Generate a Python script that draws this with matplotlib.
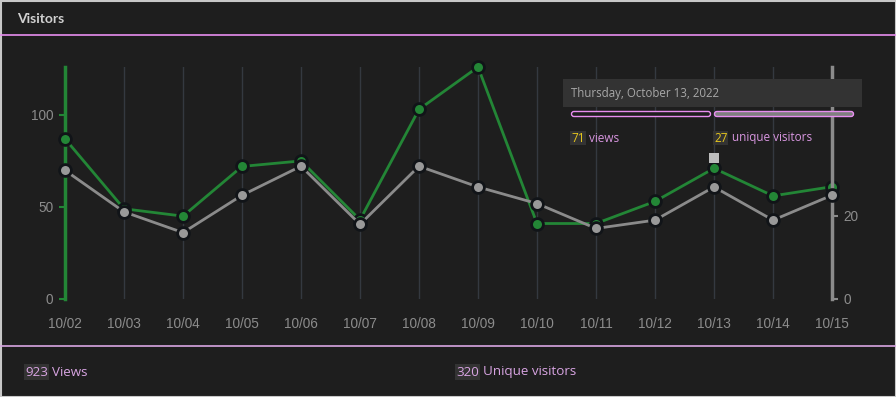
import matplotlib
matplotlib.use("Agg")
import matplotlib.pyplot as plt
from matplotlib.patches import Rectangle, FancyBboxPatch

# data
dates = ['10/02', '10/03', '10/04', '10/05', '10/06', '10/07', '10/08',
         '10/09', '10/10', '10/11', '10/12', '10/13', '10/14', '10/15']
views = [87, 49, 45, 72, 75, 43, 103, 126, 41, 41, 53, 71, 56, 61]
uniques = [31, 21, 16, 25, 32, 18, 32, 27, 23, 17, 19, 27, 19, 25]
left_ticks = [0, 50, 100]
right_ticks = [0, 20]
hover_day = 11
tooltip_title = 'Thursday, October 13, 2022'
total_views = 923
total_uniques = 320

BG = '#1e1e1e'
GREEN = '#238636'
GRAY = '#8b8b8b'
PINK = '#e88ef0'
TEXT_PINK = '#d896e0'
TICKC = '#8c8c8c'

W, H = 896, 397
fig = plt.figure(figsize=(W / 100, H / 100), dpi=100, facecolor=BG)

# main axes (pixel box of the plot area)
x0, x1, ytop, ybot = 65, 832, 67, 299
ax = fig.add_axes([x0 / W, 1 - ybot / H, (x1 - x0) / W, (ybot - ytop) / H])
ax.set_facecolor('none')
ax2 = ax.twinx()

xs = list(range(len(dates)))
ax.set_xlim(0, len(dates) - 1)
ax.set_ylim(0, 126)
ax2.set_ylim(0, 55.9)

for x in xs:
    ax.axvline(x, color='#343940', lw=1, zorder=0)

ax.plot(xs, views, color=GREEN, lw=2, marker='o', markersize=8.5,
        markerfacecolor=GREEN, markeredgecolor='#111418', markeredgewidth=2,
        clip_on=False, zorder=3)
ax2.plot(xs, uniques, color=GRAY, lw=2, marker='o', markersize=8.5,
         markerfacecolor='#999999', markeredgecolor='#111418', markeredgewidth=2,
         clip_on=False, zorder=3)

for a in (ax, ax2):
    for s in a.spines.values():
        s.set_visible(False)

ax.spines['left'].set_visible(True)
ax.spines['left'].set_color(GREEN)
ax.spines['left'].set_linewidth(2.5)
ax2.spines['right'].set_visible(True)
ax2.spines['right'].set_color(GRAY)
ax2.spines['right'].set_linewidth(2.5)

ax.set_xticks(xs)
ax.set_xticklabels(dates)
ax.tick_params(axis='x', length=0, pad=13, labelsize=9.8, labelcolor=TICKC)
ax.set_yticks(left_ticks)
ax.tick_params(axis='y', length=4.5, width=1.5, color=GREEN, pad=4,
               labelsize=9.8, labelcolor=TICKC)
ax2.set_yticks(right_ticks)
ax2.tick_params(axis='y', length=4.5, width=1.5, color=GRAY, pad=4,
                labelsize=9.8, labelcolor=TICKC)
for lab in ax.get_xticklabels() + ax.get_yticklabels() + ax2.get_yticklabels():
    lab.set_family('Liberation Sans')

# overlay in pixel coordinates for header, tooltip, footer
ov = fig.add_axes([0, 0, 1, 1], facecolor='none')
ov.set_xlim(0, W)
ov.set_ylim(H, 0)
ov.axis('off')
ov.set_zorder(10)

ov.add_patch(Rectangle((0.5, 0.5), W - 1, H - 1, fill=False,
                       edgecolor='#c8c8c8', lw=1.5))
ov.text(17, 19, 'Visitors', color='#d0d0d0', fontsize=10, fontweight='bold',
        family='Lato', va='center', ha='left')
ov.plot([0, W], [34.5, 34.5], color=PINK, lw=1.2)
ov.plot([0, W], [345.5, 345.5], color='#d9a6e2', lw=1.2)

# hover marker above the selected day
hx = x0 + (x1 - x0) * hover_day / (len(dates) - 1)
ov.add_patch(Rectangle((hx - 5, 153), 10, 10, facecolor='#bdbdbd', edgecolor='none'))

# tooltip
ov.add_patch(Rectangle((563, 79), 299, 28, facecolor='#333333', edgecolor='none'))
ov.text(571, 93, tooltip_title, color='#a8a8a8', fontsize=8.3,
        family='Open Sans', va='center', ha='left')
ov.add_patch(FancyBboxPatch((571.5, 111.5), 139, 5,
                            boxstyle='round,pad=0,rounding_size=2.5',
                            facecolor=BG, edgecolor=PINK, lw=1))
ov.add_patch(FancyBboxPatch((714.5, 111.5), 139, 5,
                            boxstyle='round,pad=0,rounding_size=2.5',
                            facecolor='#7f7f7f', edgecolor=PINK, lw=1))

fig.canvas.draw()
renderer = fig.canvas.get_renderer()


def number_label(x, y, number, word, numcolor, wordcolor, size):
    num = ov.text(x, y, str(number), color=numcolor, fontsize=size,
                  family='Open Sans', va='center', ha='left',
                  bbox=dict(boxstyle='square,pad=0.08', facecolor='#333333',
                            edgecolor='none'))
    bb = num.get_window_extent(renderer)
    ov.text(x + bb.width + 4, y, word, color=wordcolor, fontsize=size,
            family='Open Sans', va='center', ha='left')


number_label(571, 138, views[hover_day], 'views', '#e8c81c', TEXT_PINK, 8.5)
number_label(714, 138, uniques[hover_day], 'unique visitors', '#e8c81c', TEXT_PINK, 8.5)

# footer totals
number_label(25, 372, total_views, 'Views', '#d8a4e2', '#d8a4e2', 9.6)
number_label(456, 372, total_uniques, 'Unique visitors', '#d8a4e2', '#d8a4e2', 9.6)

fig.savefig('out.png', dpi=100, facecolor=BG)
